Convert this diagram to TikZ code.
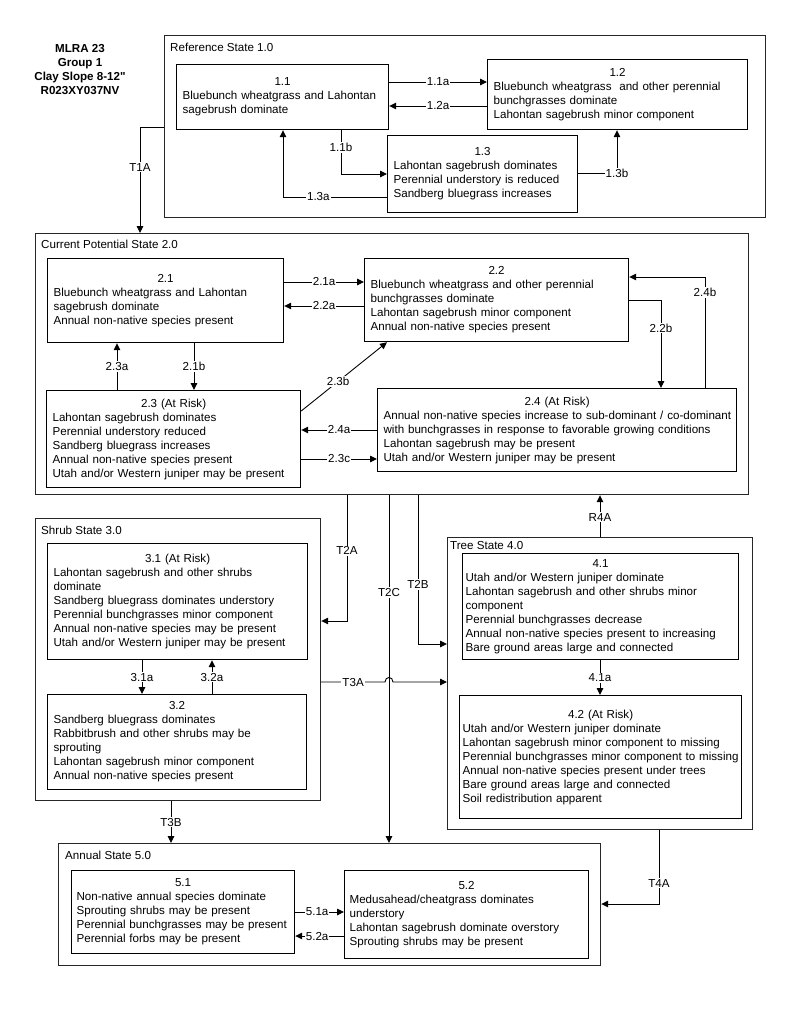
\documentclass[tikz,border=0pt]{standalone}
\usepackage{fontspec}
\setmainfont{Liberation Sans}
\newfontfamily\rawsans{Liberation Sans}[Ligatures=TeXOff]
\usetikzlibrary{arrows.meta}
\newcommand{\boxfont}{\fontsize{11.6}{14}\selectfont}
\newcommand{\boxhead}[1]{\makebox[\hsize][c]{#1}\\}
\tikzset{
	outer/.style={draw=black!85, line width=1.2pt, anchor=north west, inner sep=0pt},
	state/.style={draw, line width=1.2pt, anchor=north west, align=left, inner xsep=6pt, inner ysep=0pt, font=\boxfont},
	caption/.style={anchor=west, inner sep=0pt, font=\boxfont},
	heading/.style={align=center, inner sep=0pt, font=\boxfont\bfseries},
	link/.style={line width=0.9pt, -{Triangle[length=7pt,width=6.5pt]}},
	tag/.style={fill=white, inner sep=1pt, font=\boxfont},
}

\begin{document}
\begin{tikzpicture}[x=1pt,y=-1pt]
			%%%%% START %%%%%
			\path[use as bounding box, fill=white] (0,0) rectangle (800,1036);
			
			\node[heading] (mlra) at (80,70) {MLRA 23\\Group 1\\Clay Slope 8-12{\rawsans"}\\R023XY037NV};
			
			% reference state
			\node[outer, minimum width=601pt, minimum height=182pt] (r10) at (164,35) {};
			\node[caption] (r10l) at (170,47) {Reference State 1.0};
			\node[state, minimum width=212pt, minimum height=65pt, text width=200pt] (s11) at (176,64) {\boxhead{1.1}Bluebunch wheatgrass and Lahontan\\sagebrush dominate};
			\node[state, minimum width=260pt, minimum height=70pt, text width=248pt] (s12) at (487,59) {\boxhead{1.2}Bluebunch wheatgrass \ and other perennial\\bunchgrasses dominate\\Lahontan sagebrush minor component};
			\node[state, minimum width=190pt, minimum height=77pt, text width=178pt] (s13) at (387,135) {\boxhead{1.3}Lahontan sagebrush dominates\\Perennial understory is reduced\\Sandberg bluegrass increases};
			
			\draw[link] (s11.east |- 0,82) -- node[tag]{1.1a} (s12.west |- 0,82);
			\draw[link] (s12.west |- 0,106) -- node[tag]{1.2a} (s11.east |- 0,106);
			\draw[link] (s11.south -| 341,0) |- node[tag,pos=0.2]{1.1b} (s13.west |- 0,174);
			\draw[link] (s13.west |- 0,197) -| node[tag,pos=0.33]{1.3a} (s11.south -| 283,0);
			\draw[link] (s13.east |- 0,173) -| node[tag]{1.3b} (s12.south -| 617,0);
			
			% current potential state
			\node[outer, minimum width=713pt, minimum height=261pt] (c20) at (35,233) {};
			\node[caption] (c20l) at (41,244) {Current Potential State 2.0};
			\node[state, minimum width=236pt, minimum height=84pt, text width=224pt] (s21) at (47,258) {\boxhead{2.1}Bluebunch wheatgrass and Lahontan\\sagebrush dominate\\Annual non-native species present};
			\node[state, minimum width=264pt, minimum height=83pt, text width=252pt] (s22) at (364,258) {\boxhead{2.2}Bluebunch wheatgrass and other perennial\\bunchgrasses dominate\\Lahontan sagebrush minor component\\Annual non-native species present};
			\node[state, minimum width=254pt, minimum height=97pt, text width=242pt] (s23) at (46,390) {\boxhead{2.3 (At Risk)}Lahontan sagebrush dominates\\Perennial understory reduced\\Sandberg bluegrass increases\\Annual non-native species present\\Utah and/or Western juniper may be present};
			\node[state, minimum width=359pt, minimum height=83pt, text width=347pt] (s24) at (377,388) {\boxhead{2.4 (At Risk)}\mbox{Annual non-native species increase to sub-dominant / co-dominant}\\with bunchgrasses in response to favorable growing conditions\\Lahontan sagebrush may be present\\Utah and/or Western juniper may be present};
			
			\draw[link] (r10.west |- 0,127) -| node[tag,pos=0.69]{T1A} (c20.north -| 140,0);
			\draw[link] (s21.east |- 0,282) -- node[tag]{2.1a} (s22.west |- 0,282);
			\draw[link] (s22.west |- 0,306) -- node[tag]{2.2a} (s21.east |- 0,306);
			\draw[link] (s21.south -| 194,0) -- node[tag]{2.1b} (s23.north -| 194,0);
			\draw[link] (s23.north -| 117,0) -- node[tag]{2.3a} (s21.south -| 117,0);
			\draw[link] (s23.east |- 0,411) -- node[tag,pos=0.43]{2.3b} (s22.south -| 387,0);
			\draw[link] (s24.west |- 0,430) -- node[tag]{2.4a} (s23.east |- 0,430);
			\draw[link] (s23.east |- 0,459) -- node[tag]{2.3c} (s24.west |- 0,459);
			\draw[link] (s22.east |- 0,300) -| node[tag,pos=0.66]{2.2b} (s24.north -| 661,0);
			\draw[link] (s24.north -| 705,0) |- node[tag,pos=0.43]{2.4b} (s22.east |- 0,277);
			
			% shrub state
			\node[outer, minimum width=285pt, minimum height=282pt] (s30) at (35,518) {};
			\node[caption] (s30l) at (41,530) {Shrub State 3.0};
			\node[state, minimum width=260pt, minimum height=116pt, text width=248pt] (s31) at (47,543) {\boxhead{3.1 (At Risk)}Lahontan sagebrush and other shrubs\\dominate\\Sandberg bluegrass dominates understory\\Perennial bunchgrasses minor component\\Annual non-native species may be present\\Utah and/or Western juniper may be present};
			\node[state, minimum width=259pt, minimum height=95pt, text width=247pt] (s32) at (47,694) {\boxhead{3.2}Sandberg bluegrass dominates\\Rabbitbrush and other shrubs may be\\sprouting\\Lahontan sagebrush minor component\\Annual non-native species present};
			
			\draw[link] (s31.south -| 142,0) -- node[tag]{3.1a} (s32.north -| 142,0);
			\draw[link] (s32.north -| 212,0) -- node[tag]{3.2a} (s31.south -| 212,0);
			
			% tree state
			\node[outer, minimum width=305pt, minimum height=292pt] (t40) at (447,537) {};
			\node[caption] (t40l) at (450,546) {Tree State 4.0};
			\node[state, inner xsep=3pt, minimum width=276pt, minimum height=106pt, text width=270pt] (s41) at (462,553) {\boxhead{4.1}Utah and/or Western juniper dominate\\Lahontan sagebrush and other shrubs minor\\component\\Perennial bunchgrasses decrease\\Annual non-native species present to increasing\\Bare ground areas large and connected};
			\node[state, inner xsep=3pt, minimum width=282pt, minimum height=123pt, text width=276pt] (s42) at (459,695) {\boxhead{4.2 (At Risk)}Utah and/or Western juniper dominate\\Lahontan sagebrush minor component to missing\\\mbox{Perennial bunchgrasses minor component to missing}\\Annual non-native species present under trees\\Bare ground areas large and connected\\Soil redistribution apparent};
			
			\draw[link] (s41.south -| 600,0) -- node[tag]{4.1a} (s42.north -| 600,0);
			\draw[link] (t40.north -| 600,0) -- node[tag,pos=0.47]{R4A} (c20.south -| 600,0);
			
			% annual state
			\node[outer, minimum width=542pt, minimum height=122pt] (a50) at (58,843) {};
			\node[caption] (a50l) at (65,855) {Annual State 5.0};
			\node[state, inner xsep=5pt, minimum width=223pt, minimum height=83pt, text width=213pt] (s51) at (71,870) {\boxhead{5.1}Non-native annual species dominate\\Sprouting shrubs may be present\\\mbox{Perennial bunchgrasses may be present}\\Perennial forbs may be present};
			\node[state, inner xsep=5pt, minimum width=244pt, minimum height=88pt, text width=234pt] (s52) at (344,870) {\boxhead{5.2}Medusahead/cheatgrass dominates\\understory\\Lahontan sagebrush dominate overstory\\Sprouting shrubs may be present};
			
			\draw[link] (s51.east |- 0,912) -- node[tag,pos=0.45]{5.1a} (s52.west |- 0,912);
			\draw[link] (s52.west |- 0,936) -- node[tag,pos=0.55]{5.2a} (s51.east |- 0,936);
			
			% transitions between states
			\draw[link] (c20.south -| 347,0) |- node[tag,pos=0.22]{T2A} (s30.east |- 0,621);
			\draw[link] (c20.south -| 389,0) -- node[tag,pos=0.28]{T2C} (a50.north -| 389,0);
			\draw[link] (c20.south -| 418,0) |- node[tag,pos=0.3]{T2B} (t40.west |- 0,644);
			\draw[link] (s30.east |- 0,682) -- node[tag]{T3A} (385,682) .. controls (385,676) and (393,676) .. (393,682) -- (t40.west |- 0,682);
			\draw[link] (s30.south -| 171,0) -- node[tag]{T3B} (a50.north -| 171,0);
			\draw[link] (t40.south -| 659,0) |- node[tag,pos=0.36]{T4A} (a50.east |- 0,904);
			
			%%%%% END %%%%%
\end{tikzpicture}
\end{document}
